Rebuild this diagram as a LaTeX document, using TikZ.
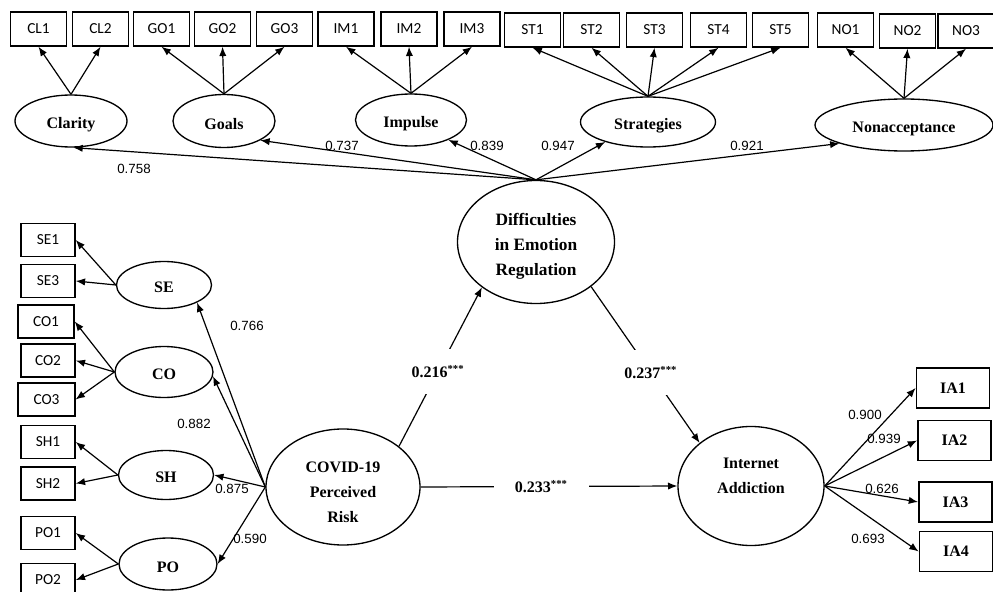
\documentclass[tikz,border=0pt]{standalone}
\usepackage{fontspec}
\setmainfont{Liberation Serif}
\newfontfamily\calfont{Carlito}
\newfontfamily\arialfont{Liberation Sans}
\usetikzlibrary{shapes.geometric,arrows.meta}

\newcommand\topstrut[1]{\rule{0pt}{#1}}
\newcommand\botstrut[1]{\rule[-#1]{0pt}{0pt}}

\begin{document}
\begin{tikzpicture}[x=0.75pt,y=-0.75pt,
  ind/.style={draw,line width=1.1pt,minimum width=42pt,minimum height=25.5pt,inner sep=0pt,font=\calfont\fontsize{11.5}{13}\selectfont},
  lind/.style={ind,minimum width=40.5pt,minimum height=24.75pt},
  iabox/.style={draw,line width=1.1pt,minimum width=55pt,minimum height=30pt,inner sep=0pt,font=\bfseries\fontsize{12}{14}\selectfont},
  lat/.style={draw,ellipse,line width=1pt,inner sep=0pt,align=center,font=\bfseries\fontsize{12}{18.75}\selectfont},
  coef/.style={font=\arialfont\fontsize{10}{12}\selectfont,inner sep=0pt},
  pcoef/.style={fill=white,font=\bfseries\fontsize{12}{14}\selectfont,inner xsep=1pt,inner ysep=12pt},
  arr/.style={-{Latex[length=7pt,width=5.5pt]},line width=0.9pt},
  ln/.style={line width=0.9pt}]
\useasboundingbox (0,0) rectangle (993,592);

% top indicators
\node[ind] (cl1) at (38.5,29) {CL1};
\node[ind] (cl2) at (100.5,29) {CL2};
\node[ind] (go1) at (161.5,29) {GO1};
\node[ind] (go2) at (222.5,29) {GO2};
\node[ind] (go3) at (284.5,29) {GO3};
\node[ind] (im1) at (346,29) {IM1};
\node[ind] (im2) at (409,29) {IM2};
\node[ind] (im3) at (472,29) {IM3};
\node[ind] (st1) at (532.5,30) {ST1};
\node[ind] (st2) at (591.5,30) {ST2};
\node[ind] (st3) at (654.5,30) {ST3};
\node[ind] (st4) at (718.5,30) {ST4};
\node[ind] (st5) at (780.5,30) {ST5};
\node[ind] (no1) at (845.5,30) {NO1};
\node[ind] (no2) at (907.5,31) {NO2};
\node[ind] (no3) at (966,31) {NO3};

% first-order latents (top)
\node[lat,minimum width=84pt,minimum height=39pt] (clarity) at (71,121) {\topstrut{14pt}Clarity};
\node[lat,minimum width=76.5pt,minimum height=39.75pt] (goals) at (224,121) {\topstrut{13pt}Goals};
\node[lat,minimum width=83.25pt,minimum height=39pt] (impulse) at (411,120) {\topstrut{14pt}Impulse};
\node[lat,minimum width=101.25pt,minimum height=37.5pt] (strat) at (648,122) {\topstrut{14pt}Strategies};
\node[lat,minimum width=133.5pt,minimum height=39pt] (nonacc) at (904,125) {\topstrut{14pt}Nonacceptance};

% main latents
\node[lat,minimum width=117.75pt,minimum height=92.25pt,font=\bfseries\fontsize{13}{18.75}\selectfont] (der) at (536,242) {\topstrut{16pt}Difficulties\\in Emotion\\Regulation};
\node[lat,minimum width=115.5pt,minimum height=87pt] (covid) at (343,487) {\topstrut{16pt}COVID-19\\Perceived\\Risk};
\node[lat,minimum width=109.5pt,minimum height=89.25pt] (ia) at (751,486) {Internet\\Addiction\botstrut{15pt}};

% left latents
\node[lat,minimum width=71.25pt,minimum height=35.25pt] (se) at (164,285) {\topstrut{11pt}SE};
\node[lat,minimum width=73.5pt,minimum height=38.25pt] (co) at (164,372) {\topstrut{11pt}CO};
\node[lat,minimum width=71.25pt,minimum height=36.75pt] (sh) at (166,475) {\topstrut{12pt}SH};
\node[lat,minimum width=73.5pt,minimum height=39pt] (po) at (168,564) {\topstrut{13pt}PO};

% left indicators
\node[lind] (se1) at (48,240) {SE1};
\node[lind] (se3) at (48,281) {SE3};
\node[lind,minimum width=42pt] (co1) at (46,321.5) {CO1};
\node[lind] (co2) at (48,360.5) {CO2};
\node[lind,minimum width=42.5pt] (co3) at (46.5,399.5) {CO3};
\node[lind] (sh1) at (48,442) {SH1};
\node[lind] (sh2) at (48,483.5) {SH2};
\node[lind] (po1) at (48,533) {PO1};
\node[lind] (po2) at (48,580) {PO2};

% right indicators
\node[iabox] (ia1) at (953,388) {IA1};
\node[iabox] (ia2) at (954.5,440.5) {IA2};
\node[iabox] (ia3) at (955.5,502) {IA3};
\node[iabox] (ia4) at (956,551.5) {IA4};

% top indicator arrows
\draw[arr] (clarity.north) -- (cl1.south);
\draw[arr] (clarity.north) -- (cl2.south);
\draw[arr] (goals.north) -- (go1.south);
\draw[arr] (goals.north) -- (go2.south);
\draw[arr] (goals.north) -- (go3.south);
\draw[arr] (impulse.north) -- (im1.south);
\draw[arr] (impulse.north) -- (im2.south);
\draw[arr] (impulse.north) -- (im3.south);
\draw[arr] (strat.north) -- (st1.south);
\draw[arr] (strat.north) -- (st2.south);
\draw[arr] (strat.north) -- (st3.south);
\draw[arr] (strat.north) -- (st4.south);
\draw[arr] (strat.north) -- (st5.south);
\draw[arr] (nonacc.north) -- (no1.south);
\draw[arr] (nonacc.north) -- (no2.south);
\draw[arr] (nonacc.north) -- (no3.south);

% second-order loadings
\draw[arr] (der.north) -- (clarity.-85);
\draw[arr] (der.north) -- (goals.-28);
\draw[arr] (der.north) -- (impulse.-28);
\draw[arr] (der.north) -- (strat.-155);
\draw[arr] (der.north) -- (nonacc.-164);
\node[coef] (l758) at (134,169) {0.758};
\node[coef] (l737) at (342,146) {0.737};
\node[coef] (l839) at (487,146) {0.839};
\node[coef] (l947) at (558,146) {0.947};
\node[coef] (l921) at (747,146) {0.921};

% left indicator arrows
\draw[arr] (se.west) -- (se1.east);
\draw[arr] (se.west) -- (se3.east);
\draw[arr] (co.west) -- (co1.east);
\draw[arr] (co.west) -- (co2.east);
\draw[arr] (co.west) -- (co3.east);
\draw[arr] (sh.west) -- (sh1.east);
\draw[arr] (sh.west) -- (sh2.east);
\draw[arr] (po.west) -- (po1.east);
\draw[arr] (po.west) -- (po2.east);

% COVID loadings
\draw[arr] (covid.west) -- (se.-28);
\draw[arr] (covid.west) -- (co.-5);
\draw[arr] (covid.west) -- (sh.east);
\draw[arr] (covid.west) -- (po.east);
\node[coef] (l766) at (247,326) {0.766};
\node[coef] (l882) at (194,424) {0.882};
\node[coef] (l875) at (232,489) {0.875};
\node[coef] (l590) at (250,539) {0.590};

% IA loadings
\draw[arr] (ia.east) -- (ia1.west);
\draw[arr] (ia.east) -- (ia2.west);
\draw[arr] (ia.east) -- (ia3.west);
\draw[arr] (ia.east) -- (ia4.west);
\node[coef] (l900) at (865,415) {0.900};
\node[coef] (l939) at (884,439) {0.939};
\node[coef] (l626) at (882,489) {0.626};
\node[coef] (l693) at (868,539) {0.693};

% structural paths
\draw[arr] (covid.36) -- node[pcoef,pos=0.47] (p216) {0.216\textsuperscript{***}} (der.-140);
\draw[arr] (der.-39) -- node[pcoef,pos=0.55] (p237) {0.237\textsuperscript{***}} (ia.140);
\draw[arr] (covid.east) -- node[pcoef,pos=0.47,inner xsep=16pt,inner ysep=2pt] (p233) {0.233\textsuperscript{***}} (ia.west);
\end{tikzpicture}
\end{document}
